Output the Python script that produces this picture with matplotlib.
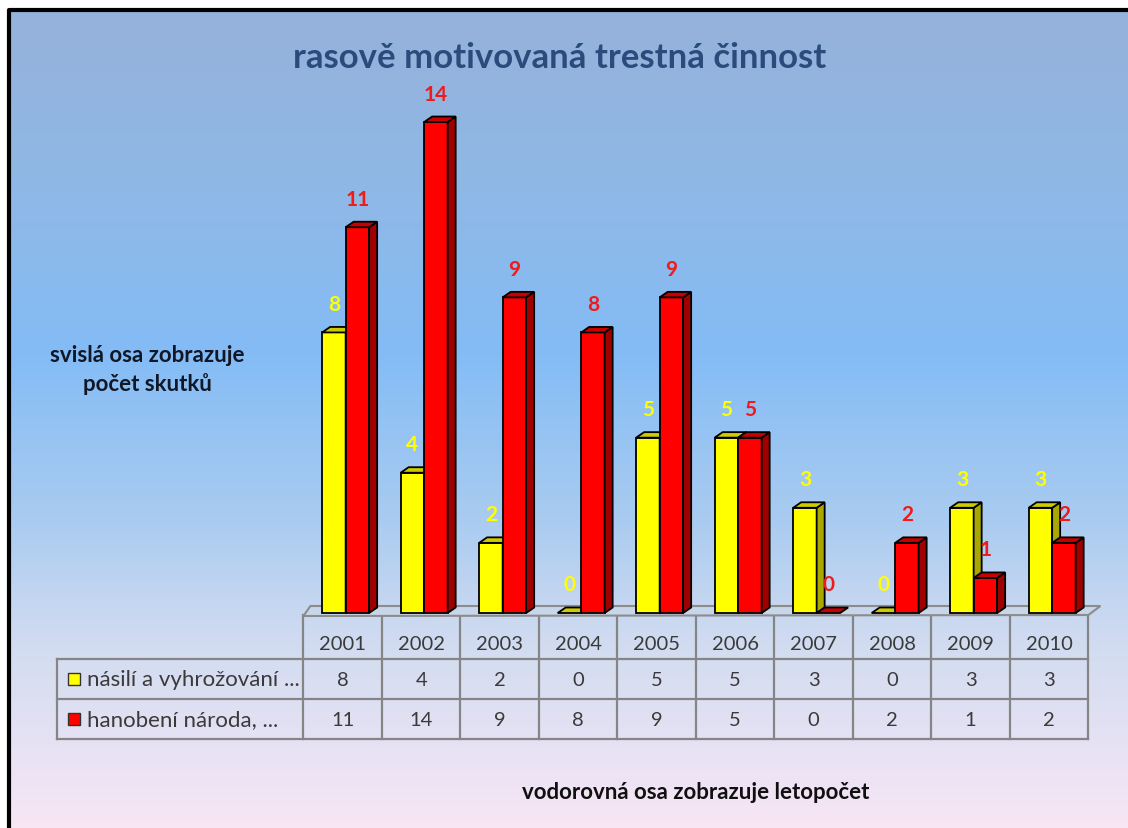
import matplotlib
matplotlib.use('Agg')
import matplotlib.pyplot as plt
import numpy as np
from matplotlib.patches import Polygon, Rectangle
from matplotlib.colors import LinearSegmentedColormap

# data
years = ['2001', '2002', '2003', '2004', '2005', '2006', '2007', '2008', '2009', '2010']
nasili = [8, 4, 2, 0, 5, 5, 3, 0, 3, 3]
hanobeni = [11, 14, 9, 8, 9, 5, 0, 2, 1, 2]
series_names = ['násilí a vyhrožování ...', 'hanobení národa, ...']

title = 'rasově motivovaná trestná činnost'
ylabel_txt = 'svislá osa zobrazuje\npočet skutků'
xlabel_txt = 'vodorovná osa zobrazuje letopočet'

plt.rcParams['font.family'] = ['Lato', 'DejaVu Sans']

W, H = 1128, 829
fig = plt.figure(figsize=(W / 100, H / 100), dpi=100)

# background gradient (pixel coords overlay)
bg = fig.add_axes([0, 0, 1, 1])
bg.set_xlim(0, W)
bg.set_ylim(H, 0)
bg.axis('off')
cmap = LinearSegmentedColormap.from_list('bgc', [
    (0.0, '#95b2db'), (0.22, '#8fb8e6'), (0.42, '#84bcf6'),
    (0.62, '#a9cbf0'), (0.78, '#d2dcf0'), (0.90, '#e6e2f4'), (1.0, '#f8e6f5')])
grad = np.linspace(0, 1, 256).reshape(-1, 1)
bg.imshow(grad, cmap=cmap, aspect='auto', extent=[9, W, H, 11], zorder=0)
bg.plot([9, 9, W], [H, 11, 11], color='black', lw=3, zorder=1, solid_capstyle='butt')

# chart axes: y=0 at px 614, 35.07 px per unit; x columns of 78.5 px from 303.4
px_unit = 35.07
col_w = 78.5
x0 = 303.4
base_px = 614
ymax = 16
ax = fig.add_axes([x0 / W, (H - base_px) / H, 10 * col_w / W, ymax * px_unit / H])
ax.set_xlim(-0.5, 9.5)
ax.set_ylim(0, ymax)
ax.axis('off')

# floor
floor = Polygon([(-0.5, -3 / px_unit), (9.5, -2 / px_unit),
                 (9.5 + 12 / col_w, 7 / px_unit), (-0.5 + 7 / col_w, 7 / px_unit)],
                closed=True, facecolor='#c8d6ea', edgecolor='#8c8c8c', lw=1.5,
                clip_on=False, zorder=1)
ax.add_patch(floor)

bw = 23.5 / col_w
dx = 8 / col_w
dy = 5.5 / px_unit
styles = [('#ffff00', '#a8a800', '#cccc00'),
          ('#ff0000', '#a00000', '#c80000')]
lbl_colors = ['#ffff00', '#f01a1a']

z = 2
for i in range(len(years)):
    for s, vals in enumerate([nasili, hanobeni]):
        v = vals[i]
        front, side, top = styles[s]
        left = i - 20.5 / col_w + s * bw
        if v > 0:
            ax.bar(left, v, width=bw, align='edge', color=front, edgecolor='black',
                   lw=1.3, zorder=z, clip_on=False)
            ax.add_patch(Polygon([(left + bw, 0), (left + bw + dx, dy), (left + bw + dx, v + dy),
                                  (left + bw, v)], closed=True, facecolor=side,
                                 edgecolor='black', lw=1.3, zorder=z, clip_on=False))
        ax.add_patch(Polygon([(left, v), (left + bw, v), (left + bw + dx, v + dy),
                              (left + dx, v + dy)], closed=True, facecolor=top,
                             edgecolor='black', lw=1.3, zorder=z, clip_on=False))
        ax.text(left + bw / 2, v + dy + 13 / px_unit, str(v), ha='center',
                va='bottom', color=lbl_colors[s], fontsize=15, fontweight='bold',
                zorder=50, clip_on=False)
        z += 1

# data table in pixel coords
tcol = '#858585'
ttxt = '#3a3a3a'
leg_left = 57
top_y, r1, r2, r3 = 616, 660, 700, 740
right = x0 + 10 * col_w
for k in range(11):
    xx = x0 + k * col_w
    bg.plot([xx, xx], [top_y, r3], color=tcol, lw=1.6, zorder=5)
bg.plot([leg_left, leg_left], [r1, r3], color=tcol, lw=1.6, zorder=5)
for yy in [r1, r2, r3]:
    bg.plot([leg_left, right], [yy, yy], color=tcol, lw=1.6, zorder=5)
for k, yr in enumerate(years):
    cx = x0 + (k + 0.5) * col_w
    bg.text(cx, (top_y + r1) / 2 + 6, yr, ha='center', va='center', fontsize=14.5, color=ttxt, zorder=6)
    bg.text(cx, (r1 + r2) / 2, str(nasili[k]), ha='center', va='center', fontsize=14.5, color=ttxt, zorder=6)
    bg.text(cx, (r2 + r3) / 2, str(hanobeni[k]), ha='center', va='center', fontsize=14.5, color=ttxt, zorder=6)
for j, name in enumerate(series_names):
    cy = (r1 + r2) / 2 if j == 0 else (r2 + r3) / 2
    bg.add_patch(Rectangle((68, cy - 6), 12, 12, facecolor=styles[j][0], edgecolor='#333333',
                           lw=1, zorder=6))
    bg.text(87, cy, name, ha='left', va='center', fontsize=16, color=ttxt, zorder=6)

# texts
bg.text(560, 58, title, ha='center', va='center', fontsize=25, fontweight='bold',
        color='#2b4b7c', zorder=6)
bg.text(147, 370, ylabel_txt, ha='center', va='center', fontsize=16, fontweight='bold',
        color='#101828', linespacing=1.35, zorder=6)
bg.text(696, 793, xlabel_txt, ha='center', va='center', fontsize=16, fontweight='bold',
        color='#101010', zorder=6)

fig.savefig('out.png', dpi=100)
